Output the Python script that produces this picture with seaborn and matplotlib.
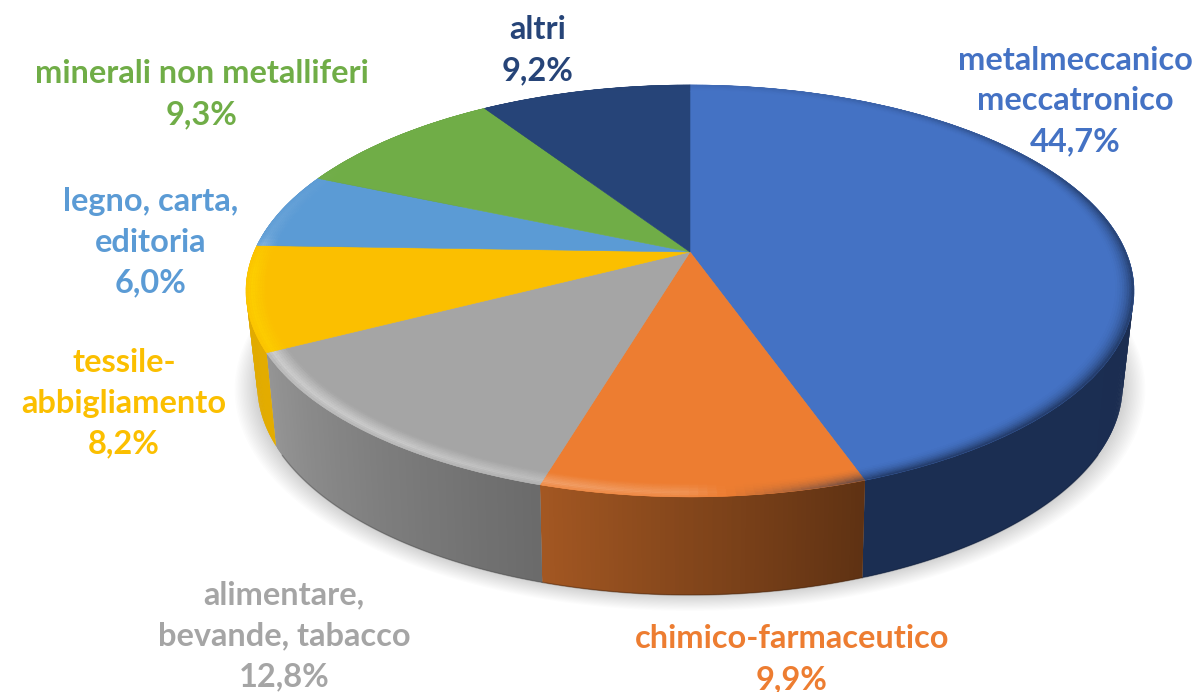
import numpy as np
import matplotlib
matplotlib.use('Agg')
import matplotlib.pyplot as plt
import matplotlib.transforms as mtransforms
from matplotlib.collections import PolyCollection
from matplotlib.colors import to_rgb
import seaborn as sns

# Dati
categorie = ['metalmeccanico\nmeccatronico', 'chimico-farmaceutico',
             'alimentare,\nbevande, tabacco', 'tessile-\nabbigliamento',
             'legno, carta,\neditoria', 'minerali non metalliferi', 'altri']
valori = [44.7, 9.9, 12.8, 8.2, 6.0, 9.3, 9.2]
etichette_valori = ['44,7%', '9,9%', '12,8%', '8,2%', '6,0%', '9,3%', '9,2%']

colori = ['#4472C4', '#ED7D31', '#A5A5A5', '#FBBF00', '#5B9BD5', '#70AD47', '#264478']
# colori del bordo laterale, da sinistra a destra
colori_lato = [['#1B2E52', '#1A2C50'], ['#A35722', '#5F3213'], ['#959595', '#6B6B6B'],
               ['#DFA900', '#E3AC00'], ['#37608A', '#37608A'], ['#436A2B', '#436A2B'],
               ['#172A4A', '#172A4A']]

# posizione delle etichette in pixel
pos_etichette = [(1075, 101), (792, 659), (284, 636), (124, 403), (151, 242), (202, 94), (538, 50)]


class Prospettiva(mtransforms.Transform):
    # porta il cerchio unitario della torta sul disco visto in prospettiva
    input_dims = 2
    output_dims = 2
    is_separable = False
    has_inverse = False

    def __init__(self, x0, y0, a, b, k):
        super().__init__()
        self.x0, self.y0, self.a, self.b, self.k = x0, y0, a, b, k

    def transform_non_affine(self, values):
        values = np.asarray(values, dtype=float)
        w = 1 + self.k * values[:, 1]
        return np.column_stack([self.x0 + self.a * values[:, 0] / w,
                                self.y0 - self.b * values[:, 1] / w])


sopra = Prospettiva(690, 252, 436, 198.6, 0.189)
sotto = Prospettiva(690, 343, 424, 201.6, 0.2)


def punti(theta, r=1.0):
    t = np.radians(theta)
    return np.column_stack([r * np.cos(t), r * np.sin(t)])


sns.set_theme(style='white')
plt.rcParams['font.family'] = ['Lato', 'DejaVu Sans']

fig = plt.figure(figsize=(11.97, 6.92), dpi=100)
ax = fig.add_axes([0, 0, 1, 1])

fette, _ = ax.pie(valori, colors=colori, startangle=90, counterclock=False,
                  wedgeprops={'linewidth': 0.4, 'zorder': 5})
for f, c in zip(fette, colori):
    f.set_edgecolor(c)
    f.set_transform(sopra + ax.transData)

# ombra sfumata sotto la torta
giro = np.linspace(0, 360, 361)
for s in np.linspace(1.05, 1.0, 16):
    ax.fill(*sotto.transform_non_affine(punti(giro, s)).T, color='black', alpha=0.0125,
            lw=0, zorder=1)

# bordo laterale: strisce sottili tra disco superiore e inferiore
for f, lato in zip(fette, colori_lato):
    n = max(int(f.theta2 - f.theta1) * 2, 8)
    th = np.linspace(f.theta1, f.theta2, n + 1)
    alto = sopra.transform_non_affine(punti(th))
    basso = sotto.transform_non_affine(punti(th))
    # ogni striscia copre anche la successiva, cosi' non restano fessure
    quad = [[alto[i], alto[min(i + 2, n)], basso[min(i + 2, n)], basso[i]] for i in range(n)]
    tinte = sns.blend_palette(lato, n_colors=n)
    ax.add_collection(PolyCollection(quad, facecolors=tinte, edgecolors='none', zorder=2))
    davanti = np.sin(np.radians(th)) < -0.5
    if davanti.any():
        ax.plot(*basso[davanti].T, color=np.array(to_rgb(lato[1])) * 0.72, lw=1.0, alpha=0.45,
                zorder=3)

# smussatura del bordo: chiara a sinistra e davanti, scura a destra
ang_rif = [0, 30, 70, 120, 158, 165, 180, 197, 215, 240, 265, 275, 300, 345, 360]
forza_rif = [-0.12, -0.25, -0.7, -0.85, -0.85, -0.5, 0.18, 0.28, 0.42, 0.45, 0.55, 0.1, 0, 0, -0.12]
raggi = np.linspace(0.955, 1.0, 10)
for f, c in zip(fette, colori):
    base = np.array(to_rgb(c))
    n = max(int(f.theta2 - f.theta1), 4)
    th = np.linspace(f.theta1, f.theta2, n + 1)
    quad, tinte = [], []
    for r1, r2 in zip(raggi[:-1], raggi[1:]):
        u = (0.5 * (r1 + r2) - raggi[0]) / (raggi[-1] - raggi[0])
        p1 = sopra.transform_non_affine(punti(th, r1))
        p2 = sopra.transform_non_affine(punti(th, r2))
        for i in range(n):
            forza = np.interp((90 - 0.5 * (th[i] + th[i + 1])) % 360, ang_rif, forza_rif)
            if forza >= 0:
                peso = forza * np.interp(u, [0, 0.7, 1], [0, 1, 0.45])
                # il giallo schiarisce verso il giallo pieno, non verso il bianco
                chiaro = np.array([1.0, 0.86, 0.0]) if c == '#FBBF00' else np.ones(3)
                tinta = base + (chiaro - base) * peso
            else:
                peso = -forza * u ** 2
                tinta = base + (np.array(to_rgb(colori_lato[0][0])) - base) * peso
            quad.append([p1[i], p1[i + 1], p2[i + 1], p2[i]])
            tinte.append(tinta)
    ax.add_collection(PolyCollection(quad, facecolors=tinte, edgecolors=tinte,
                                     linewidths=0.3, zorder=6))

# etichette
for nome, perc, (x, y), c in zip(categorie, etichette_valori, pos_etichette, colori):
    ax.text(x, y, nome + '\n' + perc, color=c, ha='center', va='center', fontsize=23.4,
            fontweight='bold', linespacing=1.49, zorder=8)

ax.set_aspect('auto')
ax.set_xlim(0, 1197)
ax.set_ylim(692, 0)
ax.axis('off')

fig.savefig('out.png', dpi=100)
